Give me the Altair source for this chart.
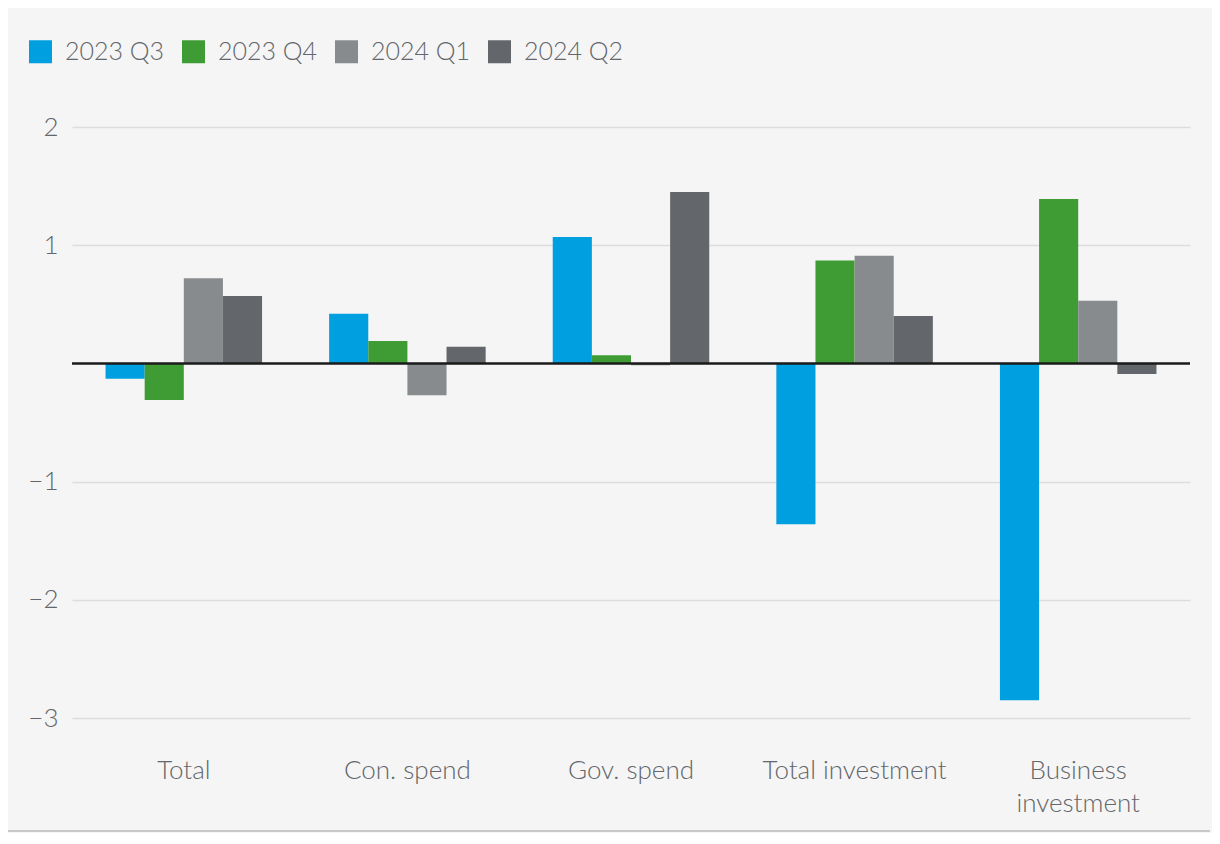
import altair as alt
import pandas as pd

categories = ["Total", "Con. spend", "Gov. spend", "Total investment", "Business investment"]
quarters = ["2023 Q3", "2023 Q4", "2024 Q1", "2024 Q2"]
q3_2023 = [-0.13, 0.42, 1.07, -1.36, -2.85]
q4_2023 = [-0.31, 0.19, 0.07, 0.87, 1.39]
q1_2024 = [0.72, -0.27, -0.015, 0.91, 0.53]
q2_2024 = [0.57, 0.14, 1.45, 0.40, -0.09]
colors = ["#009FDF", "#3F9C35", "#888B8D", "#63666A"]
y_ticks = [-3, -2, -1, 0, 1, 2]

series = [q3_2023, q4_2023, q1_2024, q2_2024]
rows = []
for q, vals in zip(quarters, series):
    for c, v in zip(categories, vals):
        rows.append({"category": c, "quarter": q, "value": v})
df = pd.DataFrame(rows)

FONT = "Lato"
TXT = "#63666A"

bars = alt.Chart(df).mark_bar().encode(
    x=alt.X("category:N", sort=categories, title=None,
            scale=alt.Scale(paddingInner=0.3, paddingOuter=0.15),
            axis=alt.Axis(domain=False, ticks=False, labelAngle=0, labelFontSize=26,
                          labelFont=FONT, labelColor=TXT, labelPadding=39,
                          labelLineHeight=33, labelLimit=400,
                          labelExpr="datum.label == 'Business investment' ? ['Business', 'investment'] : datum.label")),
    xOffset=alt.XOffset("quarter:N", sort=quarters),
    y=alt.Y("value:Q", title=None,
            scale=alt.Scale(domain=[-3, 2], nice=False),
            axis=alt.Axis(values=[t for t in y_ticks if t != 0], domain=False, ticks=False,
                          labelFontSize=26, labelFont=FONT, labelColor=TXT, labelPadding=14,
                          gridColor="#dddddd", gridWidth=1.5,
                          labelExpr="datum.value < 0 ? '\u2212' + abs(datum.value) : '' + datum.value")),
    color=alt.Color("quarter:N", sort=quarters,
                    scale=alt.Scale(domain=quarters, range=colors),
                    legend=alt.Legend(title=None, orient="none", direction="horizontal",
                                      legendX=-44, legendY=-88,
                                      symbolType="square", symbolSize=529, symbolStrokeWidth=0,
                                      symbolOpacity=1,
                                      labelFontSize=25, labelFont=FONT, labelColor=TXT,
                                      labelFontWeight=300,
                                      labelOffset=12, columnPadding=16)),
)

zero = alt.Chart(pd.DataFrame({"y": [0]})).mark_rule(color="#1a1a1a", strokeWidth=2.5).encode(
    y=alt.Y("y:Q", scale=alt.Scale(domain=[-3, 2], nice=False))
)

bottom_rule = alt.Chart(pd.DataFrame({"a": [0]})).mark_rule(color="#c8c8c8", strokeWidth=2).encode(
    x=alt.value(-64), x2=alt.value(1138), y=alt.value(704)
)

chart = alt.layer(bars, zero, bottom_rule).properties(
    width=1118, height=591,
    background="#f5f5f5",
    padding={"left": 64, "top": 119, "right": 22, "bottom": 115},
    autosize=alt.AutoSizeParams(type="none"),
).configure_view(stroke=None).configure_axis(labelFontWeight=300)

chart.save("out.html", embed_options={"renderer": "svg", "actions": False})
